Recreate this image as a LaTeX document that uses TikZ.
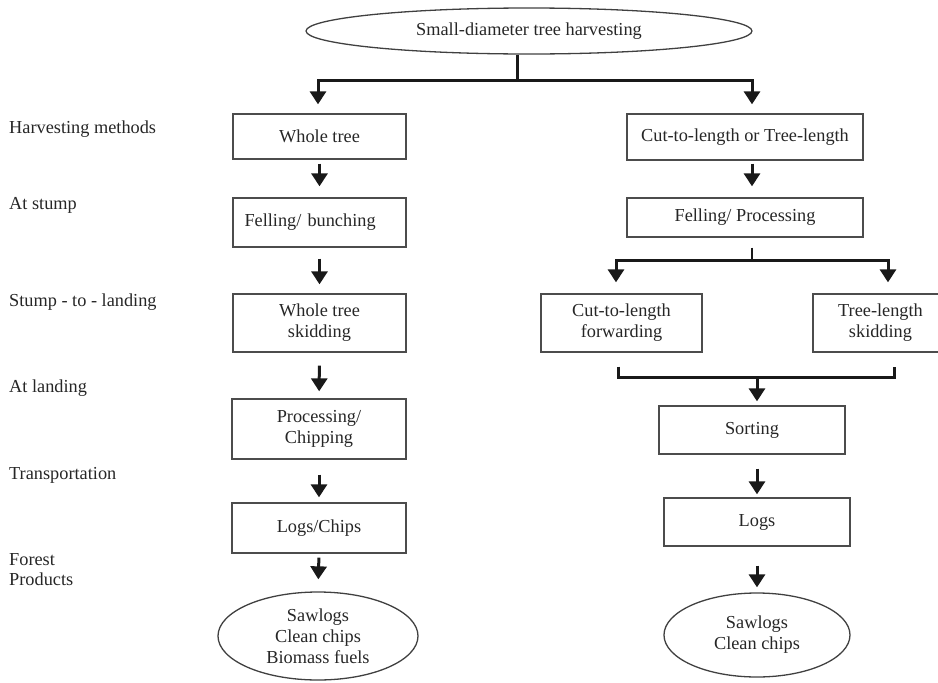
\documentclass[tikz,border=0pt]{standalone}
\usepackage{fontspec}
\setmainfont{Liberation Serif}
\usetikzlibrary{arrows.meta,shapes.geometric}
\begin{document}
\begin{tikzpicture}[x=1pt,y=-1pt,
  every node/.style={font=\fontsize{18.3}{21}\selectfont, text=black!85},
  box/.style={draw=black!70, line width=1.3pt, align=center, inner sep=0pt},
  oval/.style={draw=black!75, line width=1.3pt, ellipse, align=center, inner sep=0pt},
  arr/.style={line width=3pt, -{Triangle[width=16pt,length=13pt]}, draw=black!90},
  bar/.style={line width=3pt, draw=black!90},
  thinbar/.style={line width=1.5pt, draw=black!90},
  lbl/.style={anchor=west, inner sep=0pt, align=left}]
\useasboundingbox (0,0) rectangle (938,683);
\clip (0,0) rectangle (938,683);

% top
\node[oval, minimum width=446pt, minimum height=46pt] (e0) at (529,31) {Small-diameter tree harvesting};
\coordinate (t0) at (517,80);

% left column
\node[box, minimum width=173pt, minimum height=45pt] (wt) at (319.5,136.5) {Whole tree};
\node[box, minimum height=49pt, text width=150pt, inner xsep=11.5pt, align=left] (fb) at (319.5,222.5) {Felling/ bunching};
\node[box, minimum width=173pt, minimum height=58pt] (ws) at (319.5,323) {Whole tree\\skidding};
\node[box, minimum width=174pt, minimum height=60pt] (pc) at (319,429) {Processing/\\Chipping};
\node[box, minimum width=174pt, minimum height=50pt] (lc) at (319,528) {Logs/Chips};
\node[oval, minimum width=200pt, minimum height=88pt] (e1) at (318,636) {Sawlogs\\Clean chips\\Biomass fuels};

% right column
\node[box, minimum width=236pt, minimum height=46pt] (ct) at (745,137) {Cut-to-length or Tree-length};
\node[box, minimum width=236pt, minimum height=39pt] (fp) at (745,217.5) {Felling/ Processing};
\coordinate (t1) at (752,260);
\node[box, minimum width=161pt, minimum height=58pt] (cf) at (621.5,323) {Cut-to-length\\forwarding};
\node[box, minimum width=135pt, minimum height=58pt] (ts) at (880.5,323) {Tree-length\\skidding};
\coordinate (b1) at (757,377);
\node[box, minimum width=186pt, minimum height=48pt] (so) at (752,430) {Sorting};
\node[box, minimum width=186pt, minimum height=48pt] (lg) at (757,522) {Logs};
\node[oval, minimum width=186pt, minimum height=84pt] (e2) at (757,635) {Sawlogs\\Clean chips};

% stage labels
\node[lbl] (l1) at (9,129) {Harvesting methods};
\node[lbl] (l2) at (9,205) {At stump};
\node[lbl] (l3) at (9,302) {Stump - to - landing};
\node[lbl] (l4) at (9,388) {At landing};
\node[lbl] (l5) at (9,475) {Transportation};
\node[lbl, font=\fontsize{18.3}{20}\selectfont] (l6) at (9,570) {Forest\\Products};

% connectors: top split
\draw[bar] (e0.south -| t0) -- (t0);
\draw[arr, shorten >=9pt] (t0) -| ([xshift=-1.5pt]wt.north);
\draw[arr, shorten >=9pt] (t0) -| ([xshift=7pt]ct.north);

% left chain
\draw[arr, shorten <=4pt, shorten >=11pt] (wt) -- (fb);
\draw[arr, shorten <=11pt, shorten >=9pt] (fb) -- (ws);
\draw[arr, shorten <=13pt, shorten >=7pt] (ws) -- (pc);
\draw[arr, shorten <=15pt, shorten >=5pt] (pc) -- (lc);
\draw[arr, shorten <=4pt, shorten >=12pt] (lc.south) -- (e1.north);

% right chain
\draw[arr, shorten <=3pt, shorten >=11pt] ([xshift=7pt]ct.south) -- ([xshift=7pt]fp.north);
\draw[thinbar, shorten <=10pt] ([xshift=7pt]fp.south) -- (t1);
\draw[arr, shorten >=11pt] (t1) -| ([xshift=-5.5pt]cf.north);
\draw[arr, shorten >=11pt] (t1) -| ([xshift=7.5pt]ts.north);
\draw[bar] ([xshift=-3.5pt,yshift=-14pt]cf.south) |- (b1) -| ([xshift=13.5pt,yshift=-14pt]ts.south);
\draw[arr, shorten >=4pt] (b1) -- (so.north -| b1);
\draw[arr, shorten <=14pt, shorten >=3pt] (so.south -| lg) -- (lg.north);
\draw[arr, shorten <=19pt, shorten >=5pt] (lg) -- (e2);
\end{tikzpicture}
\end{document}
